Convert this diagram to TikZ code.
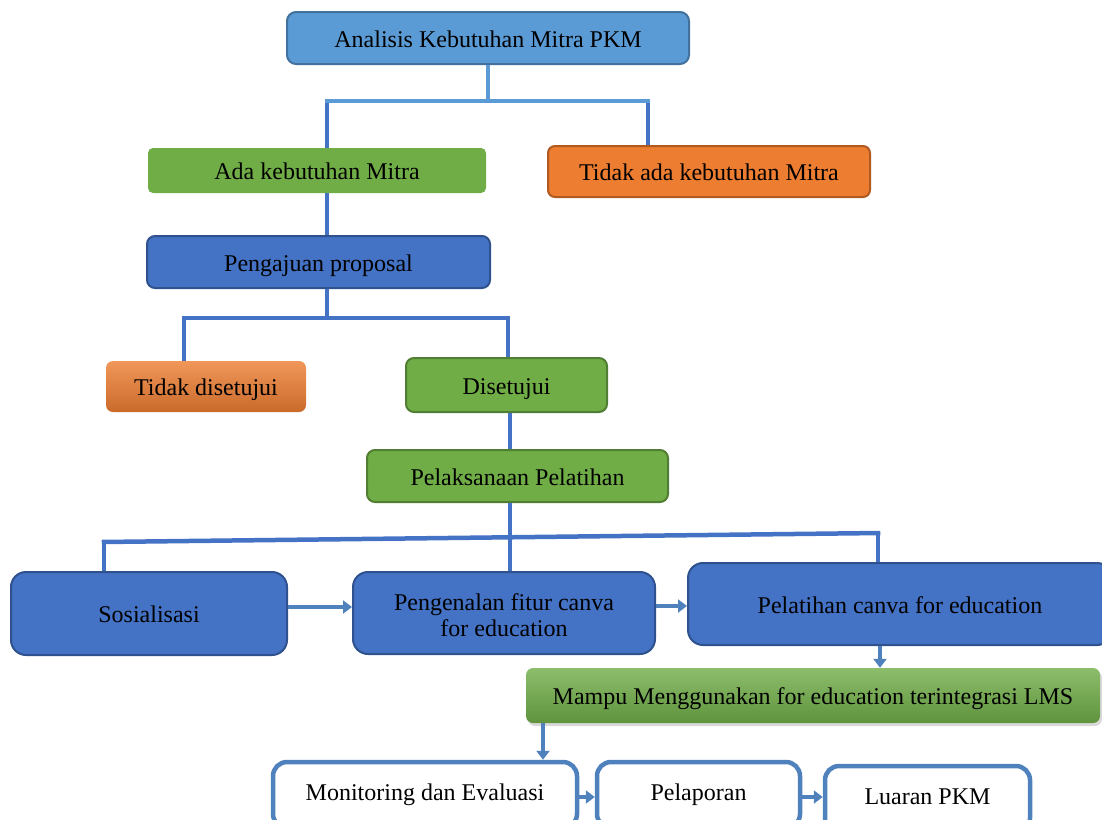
\documentclass[tikz,border=0pt]{standalone}
\usepackage{fontspec}
\setmainfont{Liberation Serif}
\usetikzlibrary{arrows.meta,shadows}
\definecolor{lblue}{HTML}{5B9BD5}
\definecolor{lblueb}{HTML}{41719C}
\definecolor{mblue}{HTML}{4472C4}
\definecolor{mblueb}{HTML}{2F528F}
\definecolor{grn}{HTML}{70AD47}
\definecolor{grnb}{HTML}{507E32}
\definecolor{org}{HTML}{ED7D31}
\definecolor{orgb}{HTML}{AE5A21}
\definecolor{arrc}{HTML}{4F81BD}
\tikzset{
  txt/.style={font=\fontsize{24}{26}\selectfont, text=black, align=center, inner sep=0pt, text height=20pt, text depth=2pt},
  topbox/.style={txt, rounded corners=9pt, fill=lblue, draw=lblueb, line width=2pt},
  bluebox/.style={txt, rounded corners=8pt, fill=mblue, draw=mblueb, line width=2pt},
  bigblue/.style={txt, rounded corners=15pt, fill=mblue, draw=mblueb, line width=2pt},
  grnflat/.style={txt, rounded corners=5pt, fill=grn},
  grnbox/.style={txt, rounded corners=8pt, fill=grn, draw=grnb, line width=2pt},
  orgbox/.style={txt, rounded corners=7pt, fill=org, draw=orgb, line width=2pt},
  orggrad/.style={txt, rounded corners=7pt, top color=org!80!white, bottom color=org!85!black},
  grngrad/.style={txt, rounded corners=7pt, top color=grn!80!white, bottom color=grn!85!black, drop shadow={shadow xshift=2pt, shadow yshift=-3pt, opacity=0.3}},
  whitebox/.style={txt, text height=17pt, text depth=7pt, rounded corners=14pt, fill=white, draw=arrc, line width=4.5pt},
  lconn/.style={draw=lblue, line width=4.5pt},
  conn/.style={draw=mblue, line width=4.5pt},
  barrow/.style={draw=arrc, line width=4pt, -{Triangle[length=9pt,width=13pt]}},
}
\begin{document}
\begin{tikzpicture}[x=1pt,y=-1pt]
\useasboundingbox (0,0) rectangle (1102,819);
\clip (0,0) rectangle (1102,819);
% nodes
\node[topbox, minimum width=402pt, minimum height=52pt] (ana) at (488,38) {Analisis Kebutuhan Mitra PKM};
\node[grnflat, minimum width=338pt, minimum height=45pt] (ada) at (317,170.5) {Ada kebutuhan Mitra};
\node[orgbox, minimum width=322pt, minimum height=51pt] (tak) at (709,171.5) {Tidak ada kebutuhan Mitra};
\node[bluebox, minimum width=343pt, minimum height=52pt] (peng) at (318.5,262) {Pengajuan proposal};
\node[orggrad, minimum width=200pt, minimum height=51pt] (tds) at (206,386.5) {Tidak disetujui};
\node[grnbox, minimum width=201pt, minimum height=54pt] (ds) at (506.5,385) {Disetujui};
\node[grnbox, minimum width=301pt, minimum height=52pt] (pel) at (517.5,476) {Pelaksanaan Pelatihan};
\node[bigblue, minimum width=276pt, minimum height=83pt] (sos) at (149,613.5) {Sosialisasi};
\node[bigblue, text height=48pt, text depth=2pt, minimum width=302pt, minimum height=82pt] (pen) at (504,613) {Pengenalan fitur canva\\for education};
\node[bigblue, minimum width=424pt, minimum height=82pt] (pc) at (900,604) {Pelatihan canva for education};
\node[grngrad, minimum width=574pt, minimum height=55pt] (mam) at (813,695.5) {Mampu Menggunakan for education terintegrasi LMS};
\node[whitebox, minimum width=304pt, minimum height=66pt] (mon) at (425,795) {Monitoring dan Evaluasi};
\node[whitebox, minimum width=203pt, minimum height=66pt] (pla) at (698.5,795) {Pelaporan};
\node[whitebox, minimum width=205pt, minimum height=66pt] (lua) at (927.5,799) {Luaran PKM};
% coordinates
\coordinate (j1) at (488,101);
\coordinate (l1) at (327,101);
\coordinate (r1) at (648,101);
\coordinate (j2) at (327,318);
\coordinate (l2) at (184,318);
\coordinate (r2) at (508,318);
\coordinate (c3) at (510,420);
\coordinate (l3) at (104,542);
\coordinate (r3) at (878,533);
\coordinate (a1) at (880,645);
\coordinate (a2) at (543,723);
% connectors
\draw[lconn] (ana.south) -- (j1);
\draw[conn] (l1) -- (l1 |- ada.north);
\draw[conn] (r1) -- (r1 |- tak.north);
\draw[lconn] ([xshift=-2.25pt]l1) -- ([xshift=2.25pt]r1);
\draw[conn] (l1 |- ada.south) -- (l1 |- peng.north);
\draw[conn] (j2 |- peng.south) -- (j2);
\draw[conn] ([xshift=-2.25pt]l2) -- ([xshift=2.25pt]r2);
\draw[conn] (l2) -- (l2 |- tds.north);
\draw[conn] (r2) -- (r2 |- ds.north);
\draw[conn] (c3 |- ds.south) -- (c3 |- pel.north);
\draw[conn] (c3 |- pel.south) -- (c3 |- pen.north);
\draw[conn] ([xshift=-2.25pt]l3) -- ([xshift=2.25pt]r3);
\draw[conn] (l3) -- (l3 |- sos.north);
\draw[conn] (r3) -- (r3 |- pc.north);
% arrows
\draw[barrow] (sos.east |- 0,607) -- (pen.west |- 0,607);
\draw[barrow] (pen.east |- 0,606) -- (pc.west |- 0,606);
\draw[barrow] (a1 |- pc.south) -- (a1 |- mam.north);
\draw[barrow] (a2 |- mam.south) -- (a2 |- mon.north);
\draw[barrow] (mon.east |- 0,797) -- (pla.west |- 0,797);
\draw[barrow] (pla.east |- 0,797) -- (lua.west |- 0,797);
\end{tikzpicture}
\end{document}
